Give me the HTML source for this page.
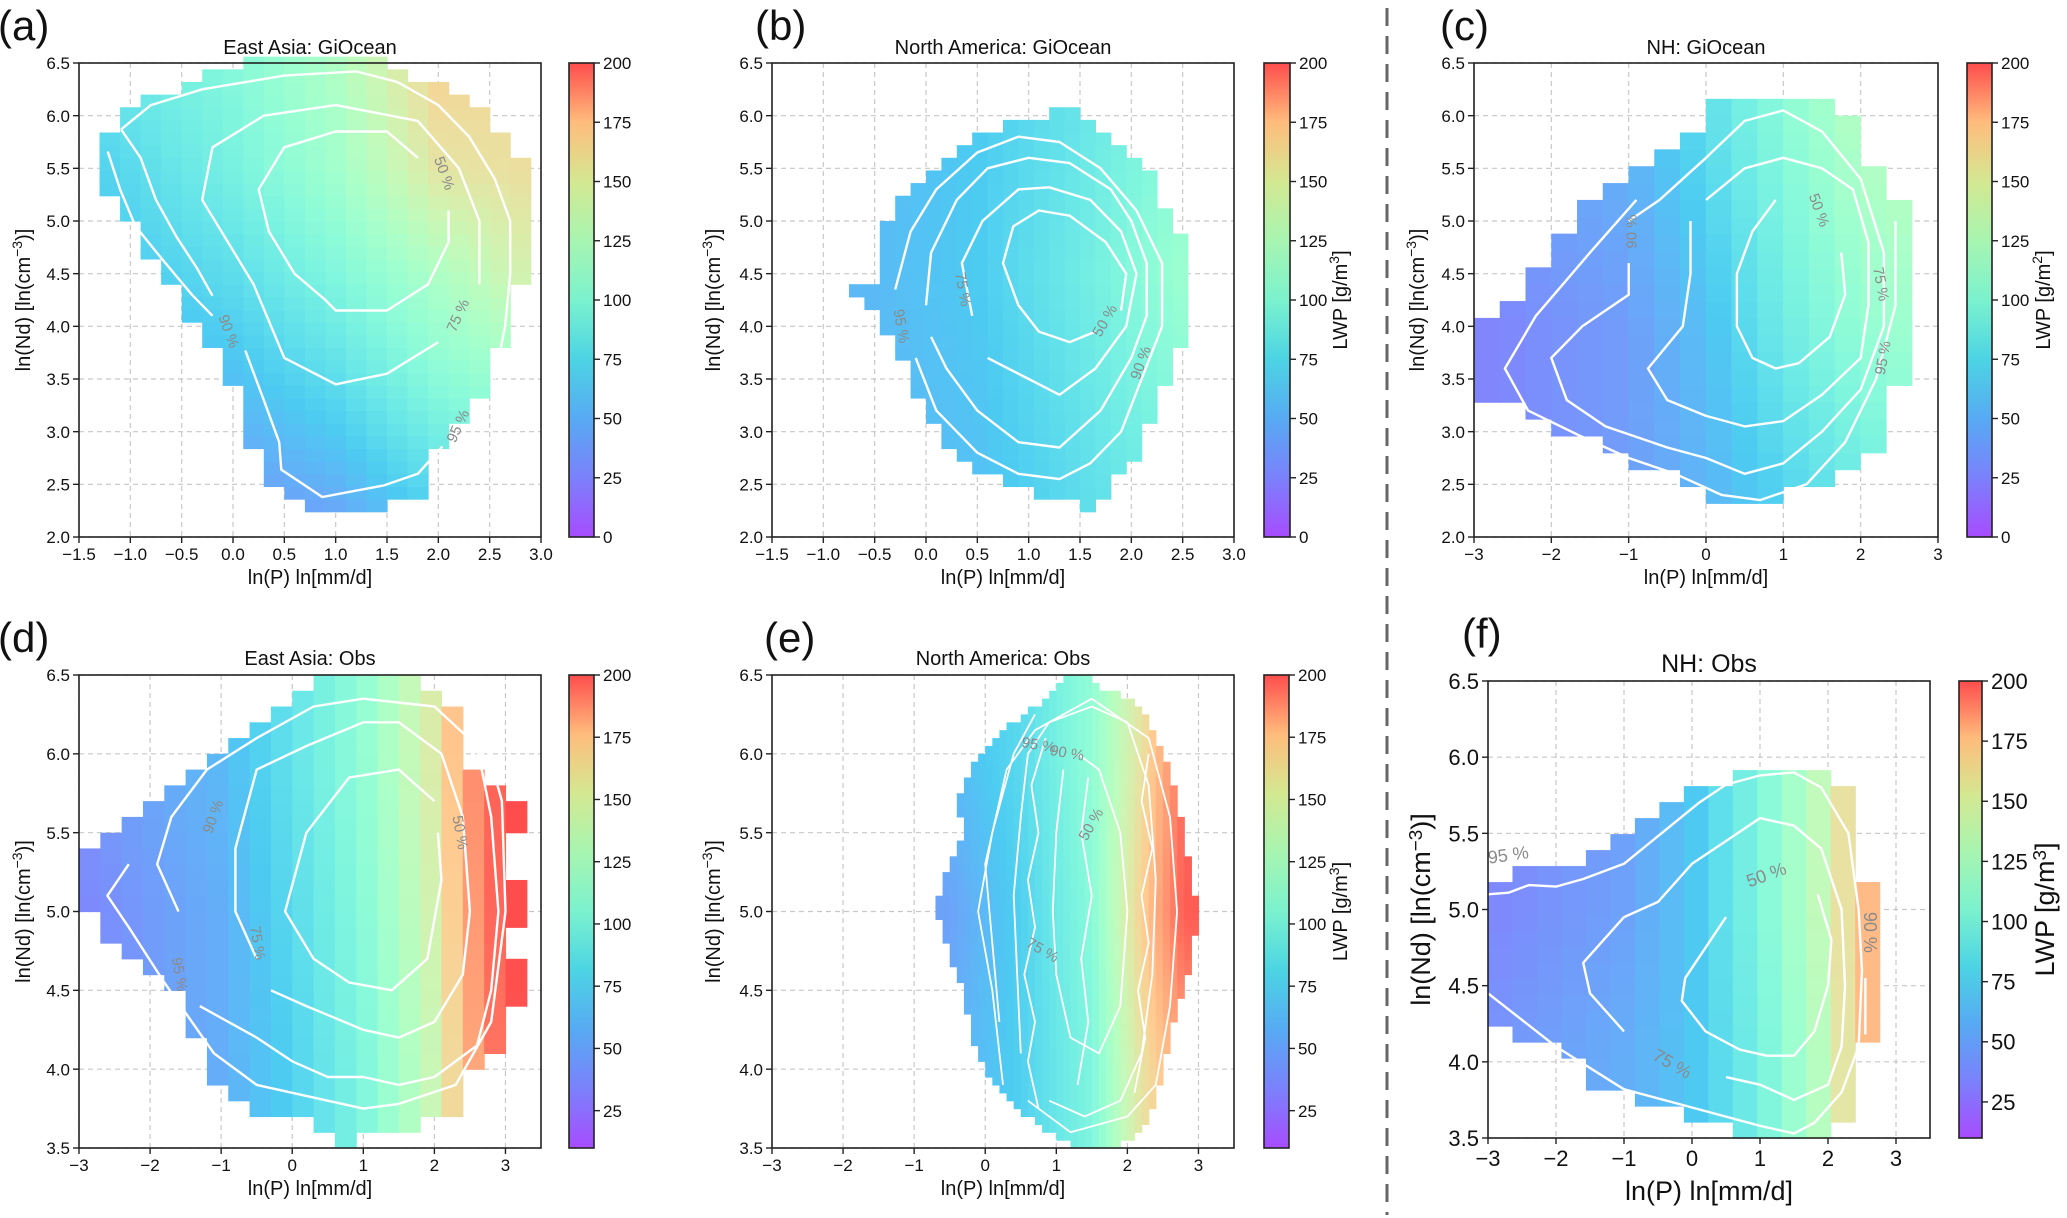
<!DOCTYPE html>
<html><head><meta charset="utf-8"><title>LWP vs ln(P) and ln(Nd)</title>
<style>html,body{margin:0;padding:0;background:#fff}svg{display:block;font-family:"Liberation Sans","DejaVu Sans",sans-serif}</style>
</head><body>
<svg id="fig" xmlns="http://www.w3.org/2000/svg" width="2067" height="1218" viewBox="0 0 2067 1218">
<defs>
<linearGradient id="cbgrad" x1="0" y1="1" x2="0" y2="0">
<stop offset="0" stop-color="rgb(167,76,255)"/><stop offset="0.125" stop-color="rgb(123,129,252)"/><stop offset="0.25" stop-color="rgb(87,170,243)"/><stop offset="0.375" stop-color="rgb(76,212,228)"/><stop offset="0.5" stop-color="rgb(123,242,206)"/><stop offset="0.625" stop-color="rgb(167,245,177)"/><stop offset="0.75" stop-color="rgb(212,232,145)"/><stop offset="0.875" stop-color="rgb(255,188,124)"/><stop offset="1" stop-color="rgb(255,77,77)"/>
</linearGradient>
</defs>
<line x1="1387" y1="8" x2="1387" y2="1215" stroke="#666" stroke-width="3" stroke-dasharray="18,10"/>
</svg>
<script>
// ---------- Panel (a) East Asia: GiOcean ----------
const aExtY=[2.25,2.35,2.6,3.0,3.4,3.6,3.9,4.2,4.5,4.8,5.1,5.4,5.7,6.0,6.2,6.3,6.45];
const aExtMin=[0.7,0.7,0.3,0.1,0.1,-0.1,-0.3,-0.5,-0.7,-0.9,-1.1,-1.3,-1.3,-1.1,-0.7,-0.5,0.0];
const aExtMax=[1.1,1.9,1.9,2.1,2.5,2.5,2.7,2.7,2.9,2.9,2.9,2.9,2.7,2.5,2.3,2.0,1.5];
const aLwpX=[-1.5,0,1,2,3];
const aLwpY=[2.3,3.5,4.5,5.5,6.4];
const aLwpV=[[25,28,35,55,70],[38,45,60,85,100],[45,60,80,105,130],[50,75,98,135,140],[60,82,105,145,140]];
const aC50=[[1.8,5.6],[1.5,5.85],[1.0,5.85],[0.5,5.7],[0.25,5.3],[0.35,4.9],[0.6,4.5],[0.9,4.25],[1.0,4.15],[1.5,4.15],[1.9,4.4],[2.1,4.8],[2.1,5.1]];
const aC75=[[2.0,3.85],[1.5,3.55],[1.0,3.45],[0.5,3.7],[0.2,4.4],[-0.3,5.2],[-0.2,5.7],[0.3,6.0],[1.0,6.1],[1.8,5.95],[2.2,5.5],[2.4,5.0],[2.4,4.4]];
const aC90=[[-1.09,5.87],[-0.8,6.1],[-0.3,6.25],[0.5,6.38],[1.2,6.42],[1.6,6.32],[2.0,6.1],[2.3,5.8],[2.55,5.4],[2.7,5.0],[2.7,4.5],[2.65,4.0],[2.55,3.5]];
const aC90b=[[-1.09,5.87],[-0.9,5.6],[-0.75,5.2],[-0.55,4.85],[-0.35,4.55],[-0.2,4.29]];
const aC95=[[-1.22,5.66],[-1.1,5.3],[-0.95,4.95],[-0.7,4.65],[-0.4,4.3],[-0.2,4.1]];
const aC95b=[[0.12,3.77],[0.3,3.3],[0.45,2.9],[0.47,2.64],[0.87,2.38],[1.47,2.49],[1.8,2.6],[2.04,2.86]];
const aLabels=[["50 %",2.05,5.45,70],["75 %",2.2,4.1,-65],["90 %",-0.05,3.95,70],["95 %",2.2,3.05,-65]];
// ---------- Panel (b) North America: GiOcean ----------
const bExtY=[2.3,2.45,2.6,2.8,3.1,3.4,3.7,4.0,4.3,4.5,4.9,5.2,5.4,5.6,5.85,6.05];
const bExtMin=[1.5,0.9,0.6,0.2,0.1,-0.1,-0.2,-0.4,-0.75,-0.4,-0.4,-0.3,-0.1,0.2,0.5,1.25];
const bExtMax=[1.65,1.75,1.9,2.1,2.2,2.3,2.45,2.5,2.5,2.5,2.5,2.3,2.2,2.0,1.75,1.4];
const bLwpX=[-0.8,0.5,1.5,2.5];
const bLwpY=[2.5,4.5,6.0];
const bLwpV=[[40,45,60,75],[40,50,70,95],[40,50,65,85]];
const bC50=[[1.65,3.95],[1.4,3.85],[1.1,3.95],[0.9,4.2],[0.75,4.6],[0.85,4.95],[1.1,5.1],[1.4,5.05],[1.75,4.8],[1.95,4.5],[1.9,4.15]];
const bC75=[[0.45,4.1],[0.35,4.6],[0.55,5.0],[0.9,5.3],[1.2,5.32],[1.6,5.2],[1.9,4.9],[2.05,4.5],[1.95,4.0],[1.65,3.6],[1.3,3.35],[1.0,3.5],[0.6,3.7]];
const bC90=[[0.0,4.2],[0.05,4.7],[0.3,5.2],[0.6,5.5],[1.0,5.6],[1.4,5.55],[1.8,5.3],[2.0,5.0],[2.15,4.6],[2.15,4.1],[2.0,3.7],[1.7,3.2],[1.3,2.85],[0.9,2.9],[0.5,3.2],[0.2,3.6],[0.05,3.9]];
const bC95=[[-0.3,4.35],[-0.15,4.9],[0.1,5.3],[0.5,5.65],[0.9,5.8],[1.3,5.75],[1.7,5.5],[2.05,5.1],[2.3,4.6],[2.3,4.0],[2.1,3.5],[1.9,3.0],[1.6,2.7],[1.3,2.55],[0.9,2.6],[0.5,2.8],[0.1,3.2],[-0.1,3.7]];
const bLabels=[["75 %",0.35,4.35,80],["95 %",-0.25,4.0,80],["50 %",1.75,4.05,-60],["90 %",2.1,3.65,-70]];
// ---------- Panel (c) NH: GiOcean ----------
const cExtY=[2.35,2.6,2.9,3.2,3.4,3.9,4.3,4.8,5.2,5.5,5.9,6.15];
const cExtMin=[0.2,-0.5,-1.5,-2.5,-3.0,-3.0,-2.5,-2.0,-1.5,-0.8,-0.2,0.3];
const cExtMax=[1.0,1.8,2.2,2.2,2.5,2.5,2.5,2.5,2.5,2.2,2.0,1.5];
const cLwpX=[-3,-1,0,1,2,2.5];
const cLwpY=[2.5,4.0,6.0];
const cLwpV=[[20,30,40,55,70,75],[20,30,45,70,90,95],[30,40,60,85,110,115]];
const cC50=[[0.9,5.2],[0.6,4.9],[0.4,4.5],[0.4,4.0],[0.6,3.7],[0.9,3.6],[1.2,3.65],[1.6,3.9],[1.8,4.3],[1.75,4.7]];
const cC75=[[-0.2,5.0],[-0.2,4.5],[-0.3,4.0],[-0.75,3.6],[-0.5,3.3],[0,3.15],[0.5,3.05],[1.0,3.1],[1.5,3.35],[2.0,3.7],[2.1,4.2],[2.1,4.8],[1.9,5.3],[1.5,5.5],[1.0,5.6],[0.5,5.5],[0.0,5.2]];
const cC90=[[-1.0,4.6],[-1.0,4.3],[-1.6,4.0],[-2.0,3.7],[-1.8,3.3],[-1.3,3.05],[-0.5,2.85],[0,2.75],[0.5,2.6],[1.0,2.7],[1.5,3.0],[2.0,3.4],[2.3,4.0],[2.3,4.7],[2.0,5.4],[1.5,5.85],[1.0,6.05],[0.5,5.95],[0,5.6],[-0.6,5.2],[-1.0,5.0]];
const cC95=[[-0.9,5.2],[-1.5,4.7],[-2.2,4.1],[-2.6,3.6],[-2.3,3.2],[-1.6,2.95],[-1.0,2.75],[-0.4,2.6],[0.2,2.4],[0.7,2.35],[1.3,2.5],[1.8,2.9],[2.2,3.5],[2.45,4.2],[2.45,5.0]];
const cLabels=[["50 %",1.45,5.1,70],["75 %",2.25,4.4,80],["90 %",-0.95,4.9,-90],["95 %",2.3,3.7,-80]];
// ---------- Panel (d) East Asia: Obs ----------
const dExtY=[3.5,3.6,3.7,3.8,4.0,4.2,4.5,4.8,5.0,5.4,5.6,5.8,5.95,6.1,6.3,6.4];
const dExtMin=[0.6,0.6,-0.2,-0.8,-1.3,-1.3,-1.7,-2.6,-2.9,-2.9,-2.3,-1.6,-1.2,-0.8,-0.2,0.4];
const dExtMax=[0.9,1.2,2.3,2.3,2.6,3.0,3.3,3.0,3.3,3.0,3.3,2.7,2.4,2.4,2.2,1.8];
const dLwpX=[-3,-1,0,1,2,2.5,3,3.3];
const dLwpY=[4,5,6];
const dLwpV=[[30,45,60,85,125,165,195,200],[30,45,65,90,130,170,200,200],[35,50,70,95,135,175,200,200]];
const dC50=[[2.0,5.7],[1.5,5.9],[0.8,5.85],[0.2,5.5],[-0.1,5.0],[0.3,4.7],[0.8,4.55],[1.4,4.5],[1.9,4.7],[2.1,5.2],[2.05,5.5]];
const dC75=[[-0.5,4.7],[-0.8,5.0],[-0.8,5.4],[-0.5,5.9],[0.2,6.05],[1.0,6.2],[1.5,6.2],[2.1,6.0],[2.4,5.6],[2.5,5.0],[2.4,4.6],[2.0,4.3],[1.5,4.2],[1.0,4.25],[0.2,4.4],[-0.3,4.5]];
const dC90=[[-1.6,5.0],[-1.9,5.3],[-1.7,5.6],[-1.2,5.9],[-0.5,6.1],[0.3,6.3],[1.0,6.35],[2.0,6.3],[2.6,6.05],[2.8,5.6],[2.9,5.0],[2.8,4.5],[2.6,4.15],[2.0,3.95],[1.5,3.9],[1.0,3.95],[0.5,3.95],[0,4.05],[-0.5,4.2],[-1.3,4.4]];
const dC95=[[-2.3,5.3],[-2.6,5.1],[-2.3,4.9],[-1.8,4.55],[-1.1,4.1],[-0.5,3.9],[0.5,3.8],[1.0,3.75],[1.5,3.78],[2.3,3.9],[2.8,4.3],[3.0,5.0],[2.95,5.7],[2.7,6.1]];
const dLabels=[["50 %",2.35,5.5,80],["75 %",-0.5,4.8,80],["90 %",-1.1,5.6,-70],["95 %",-1.6,4.6,80]];
// ---------- Panel (e) North America: Obs ----------
const eExtY=[3.5,3.6,3.8,4.0,4.2,4.5,4.7,5.0,5.2,5.5,5.7,5.9,6.1,6.3,6.45];
const eExtMin=[1.3,0.9,0.3,0.0,-0.2,-0.3,-0.5,-0.7,-0.6,-0.3,-0.4,-0.2,0.1,0.7,1.1];
const eExtMax=[1.8,2.2,2.4,2.5,2.6,2.8,2.9,3.0,2.9,2.8,2.7,2.6,2.4,2.2,1.5];
const eLwpX=[-0.5,0.5,1.5,2.2,2.8];
const eLwpY=[4,5,6];
const eLwpV=[[45,60,85,140,170],[40,60,90,150,195],[50,65,95,140,190]];
const eC50=[[1.1,5.9],[1.0,5.5],[0.95,5.0],[1.0,4.6],[1.2,4.2],[1.6,4.1],[1.9,4.4],[2.0,5.0],[1.9,5.5],[1.6,5.9],[1.3,6.0]];
const eC75=[[0.5,4.1],[0.45,4.6],[0.4,5.1],[0.5,5.6],[0.6,6.0],[0.9,6.2],[1.5,6.3],[2.0,6.2],[2.3,5.8],[2.4,5.2],[2.35,4.6],[2.2,4.1],[1.9,3.8],[1.4,3.7],[0.9,3.8]];
const eC90=[[0.2,4.3],[0.1,4.8],[0.0,5.3],[0.3,5.9],[0.7,6.15],[1.5,6.35],[2.3,6.1],[2.6,5.6],[2.7,5.0],[2.6,4.4],[2.4,3.9],[2.0,3.7],[1.2,3.6],[0.6,3.8]];
const eC95=[[0.25,3.9],[0.1,4.5],[-0.1,5.0],[0.1,5.5],[0.4,6.0],[0.7,6.25]];
const eC95b=[[0.75,3.75],[0.6,4.05],[0.7,4.3],[0.55,4.6],[0.7,4.9],[0.6,5.2],[0.75,5.5],[0.65,5.8],[0.85,6.1]];
const eC95c=[[2.1,3.85],[2.25,4.2],[2.15,4.5],[2.3,4.8],[2.2,5.1],[2.35,5.4],[2.2,5.7],[2.3,6.0]];
const eC95d=[[1.3,3.9],[1.45,4.3],[1.35,4.7],[1.5,5.1],[1.35,5.5],[1.45,5.85]];
const eLabels=[["50 %",1.5,5.55,-60],["75 %",0.8,4.75,30],["95 %",0.75,6.05,10],["90 %",1.15,6.0,10]];
// ---------- Panel (f) NH: Obs ----------
const fExtY=[3.52,3.6,3.7,3.82,3.95,4.1,4.2,4.35,4.5,5.15,5.25,5.35,5.5,5.7,5.8,5.9];
const fExtMin=[0.9,0.2,-0.6,-1.3,-1.6,-2.0,-2.7,-3.0,-3.0,-3.0,-2.7,-1.3,-1.0,-0.5,0.2,0.9];
const fExtMax=[1.95,2.3,2.3,2.3,2.3,2.3,2.65,2.65,2.65,2.65,2.3,2.3,2.3,2.3,2.3,1.95];
const fLwpX=[-3,-1,0,1,2,2.5];
const fLwpY=[4,5];
const fLwpV=[[35,45,55,80,120,160],[30,40,55,85,125,160]];
const fC50=[[0.5,4.95],[0.2,4.75],[-0.1,4.55],[-0.15,4.4],[0.2,4.2],[0.7,4.08],[1.1,4.04],[1.5,4.04],[1.8,4.2],[2.0,4.5],[2.05,4.8],[1.85,5.1]];
const fC75=[[-1.0,4.2],[-1.5,4.45],[-1.6,4.65],[-1.0,4.95],[-0.5,5.05],[0,5.3],[0.5,5.45],[1.0,5.6],[1.5,5.55],[1.9,5.4],[2.2,5.0],[2.25,4.5],[2.2,4.1],[2.0,3.85],[1.5,3.75],[1.0,3.85],[0.5,3.9]];
const fC95=[[-3.0,5.1],[-2.7,5.11],[-2.4,5.16],[-2.0,5.15],[-1.6,5.2],[-1.0,5.3],[0.1,5.7],[0.5,5.82],[1.0,5.88],[1.5,5.9],[1.9,5.8],[2.3,5.5],[2.45,5.0],[2.5,4.6],[2.45,4.1],[2.2,3.8],[1.8,3.6],[1.5,3.53],[1.0,3.58],[0,3.7],[-1.0,3.82],[-2.0,4.1],[-3.0,4.45]];
const fC90=[[2.55,4.18],[2.55,4.55]];
const fLabels=[["95 %",-2.7,5.35,-8],["50 %",1.1,5.22,-20],["75 %",-0.3,3.98,30],["90 %",2.6,4.85,90]];

const NS='http://www.w3.org/2000/svg';
const svg=document.getElementById('fig');
function mk(tag,attrs,parent){const e=document.createElementNS(NS,tag);for(const k in attrs)e.setAttribute(k,attrs[k]);(parent||svg).appendChild(e);return e;}
function rainbow(t){t=Math.max(0,Math.min(1,t));const r=Math.min(1,Math.abs(2*t-0.5)),g=Math.sin(Math.PI*t),b=Math.cos(Math.PI*t/2);const a=0.7;return 'rgb('+Math.round((r*a+1-a)*255)+','+Math.round((g*a+1-a)*255)+','+Math.round((b*a+1-a)*255)+')';}
function interp1(xs,ys,x){if(x<=xs[0])return ys[0];for(let i=1;i<xs.length;i++){if(x<=xs[i]){const f=(x-xs[i-1])/(xs[i]-xs[i-1]);return ys[i-1]+f*(ys[i]-ys[i-1]);}}return ys[ys.length-1];}
function lwpAt(X,Y,V,x,y){const rows=V.map(r=>interp1(X,r,x));return interp1(Y,rows,y);}
function fmt(v,dec){const s=Math.abs(v).toFixed(dec);return (v<0?'\u2212':'')+s;}

function drawPanel(p){
  const g=mk('g',{});
  
  
  const sx=v=>p.l+(v-p.xlim[0])/(p.xlim[1]-p.xlim[0])*(p.r-p.l);
  const sy=v=>p.b-(v-p.ylim[0])/(p.ylim[1]-p.ylim[0])*(p.b-p.t);
  p.xticks.forEach(v=>{const ln=mk('line',{x1:sx(v),x2:sx(v),y1:p.t,y2:p.b,stroke:'#c8c8c8','stroke-width':1.2,'stroke-dasharray':'5,4'},g);
    
    });
  p.yticks.forEach(v=>{const ln=mk('line',{x1:p.l,x2:p.r,y1:sy(v),y2:sy(v),stroke:'#c8c8c8','stroke-width':1.2,'stroke-dasharray':'5,4'},g);
    
    });
  const cells=mk('g',{},g);
  
  
  const ymin=Math.min(...p.extY),ymax=Math.max(...p.extY);
  for(let y0=p.ylim[0];y0<p.ylim[1]-1e-9;y0+=p.dy){
    const yc=y0+p.dy/2;if(yc<ymin-p.dy/2||yc>ymax+p.dy/2)continue;
    const xa=interp1(p.extY,p.extMin,yc),xb=interp1(p.extY,p.extMax,yc);
    for(let x0=p.xlim[0];x0<p.xlim[1]-1e-9;x0+=p.dx){
      const xc=x0+p.dx/2;if(xc<xa||xc>xb)continue;
      const v=lwpAt(p.lwpX,p.lwpY,p.lwpV,xc,yc);
      const rc=mk('rect',{x:sx(x0).toFixed(2),y:sy(y0+p.dy).toFixed(2),width:((sx(x0+p.dx)-sx(x0))+0.6).toFixed(2),height:((sy(y0)-sy(y0+p.dy))+0.6).toFixed(2),fill:rainbow((v-p.vmin)/(200-p.vmin))},cells);
      
      
    }
  }
  p.contours.forEach((c,i)=>{const pl=mk('polyline',{points:c.map(q=>sx(q[0]).toFixed(1)+','+sy(q[1]).toFixed(1)).join(' '),fill:'none',stroke:'#fff','stroke-width':p.cw||2.4,'stroke-linejoin':'round'},g);
    
    });
  p.labels.forEach(L=>{const t=mk('text',{x:sx(L[1]),y:sy(L[2]),fill:'#8a8a8a','font-size':p.clf||15,'text-anchor':'middle','dominant-baseline':'middle',transform:'rotate('+L[3]+' '+sx(L[1])+' '+sy(L[2])+')'},g);t.textContent=L[0];
    
    });
  const fr=mk('rect',{x:p.l,y:p.t,width:p.r-p.l,height:p.b-p.t,fill:'none',stroke:'#222','stroke-width':1.6},g);
  
  
  const tf=p.tf;
  p.xticks.forEach(v=>{mk('line',{x1:sx(v),x2:sx(v),y1:p.b,y2:p.b+6,stroke:'#222','stroke-width':1.4},g);
    const t=mk('text',{x:sx(v),y:p.b+6+tf,'font-size':tf,'text-anchor':'middle',fill:'#111'},g);t.textContent=fmt(v,p.xdec);
    
    });
  p.yticks.forEach(v=>{mk('line',{x1:p.l-6,x2:p.l,y1:sy(v),y2:sy(v),stroke:'#222','stroke-width':1.4},g);
    const t=mk('text',{x:p.l-9,y:sy(v)+tf*0.36,'font-size':tf,'text-anchor':'end',fill:'#111'},g);t.textContent=fmt(v,1);
    
    });
  const xl=mk('text',{x:(p.l+p.r)/2,y:p.xly,'font-size':p.lf,'text-anchor':'middle',fill:'#111'},g);xl.textContent='ln(P) ln[mm/d]';
  
  
  const yl=mk('text',{x:0,y:0,'font-size':p.lf,'text-anchor':'middle',fill:'#111',transform:'translate('+p.ylx+','+((p.t+p.b)/2)+') rotate(-90)'},g);
  yl.innerHTML='ln(Nd) [ln(cm<tspan dy="-8" font-size="'+(p.lf*0.7)+'">\u22123</tspan><tspan dy="8">)]</tspan>';
  
  
  const ti=mk('text',{x:(p.l+p.r)/2,y:p.tiy,'font-size':p.tif,'text-anchor':'middle',fill:'#111'},g);ti.textContent=p.title;
  
  
  const pl=mk('text',{x:p.plx,y:p.ply,'font-size':42,fill:'#111'},g);pl.textContent='('+p.id+')';
  
  
  const cb=mk('rect',{x:p.cl,y:p.t,width:p.cr-p.cl,height:p.b-p.t,fill:'url(#cbgrad)',stroke:'#222','stroke-width':1.6},g);
  
  
  const cy=v=>p.b-(v-p.vmin)/(200-p.vmin)*(p.b-p.t);
  p.cticks.forEach(v=>{mk('line',{x1:p.cr,x2:p.cr+6,y1:cy(v),y2:cy(v),stroke:'#222','stroke-width':1.4},g);
    const t=mk('text',{x:p.cr+9,y:cy(v)+tf*0.36,'font-size':tf,fill:'#111'},g);t.textContent=v;
    
    });
  if(p.cbl){const c=mk('text',{x:0,y:0,'font-size':p.lf,'text-anchor':'middle',fill:'#111',transform:'translate('+p.cbl+','+((p.t+p.b)/2)+') rotate(-90)'},g);
    c.innerHTML='LWP [g/m<tspan dy="-8" font-size="'+(p.lf*0.7)+'">'+p.cbu+'</tspan><tspan dy="8">]</tspan>';
    
    }
}
const tickA=[-1.5,-1,-0.5,0,0.5,1,1.5,2,2.5,3];
const tickC=[-3,-2,-1,0,1,2,3];
const yTop=[2,2.5,3,3.5,4,4.5,5,5.5,6,6.5];
const yBot=[3.5,4,4.5,5,5.5,6,6.5];
const cbTop=[0,25,50,75,100,125,150,175,200];
const cbBot=[25,50,75,100,125,150,175,200];
const common={tf:17,lf:20,tif:20};
drawPanel(Object.assign({},common,{id:'a',l:79,t:63,r:541,b:537,xlim:[-1.5,3],ylim:[2,6.5],xticks:tickA,yticks:yTop,xdec:1,dx:0.2,dy:0.12,vmin:0,extY:aExtY,extMin:aExtMin,extMax:aExtMax,lwpX:aLwpX,lwpY:aLwpY,lwpV:aLwpV,contours:[aC50,aC75,aC90,aC90b,aC95,aC95b],labels:aLabels,cl:569,cr:594,cticks:cbTop,title:'East Asia: GiOcean',tiy:54,plx:-2,ply:40,xly:584,ylx:30}));
drawPanel(Object.assign({},common,{id:'b',l:772,t:63,r:1234,b:537,xlim:[-1.5,3],ylim:[2,6.5],xticks:tickA,yticks:yTop,xdec:1,dx:0.15,dy:0.12,vmin:0,extY:bExtY,extMin:bExtMin,extMax:bExtMax,lwpX:bLwpX,lwpY:bLwpY,lwpV:bLwpV,contours:[bC50,bC75,bC90,bC95],labels:bLabels,cl:1264,cr:1290,cticks:cbTop,cbl:1347,cbu:'3',title:'North America: GiOcean',tiy:54,plx:755,ply:40,xly:584,ylx:720}));
drawPanel(Object.assign({},common,{id:'c',l:1474,t:63,r:1938,b:537,xlim:[-3,3],ylim:[2,6.5],xticks:tickC,yticks:yTop,xdec:0,dx:0.333,dy:0.16,vmin:0,extY:cExtY,extMin:cExtMin,extMax:cExtMax,lwpX:cLwpX,lwpY:cLwpY,lwpV:cLwpV,contours:[cC50,cC75,cC90,cC95],labels:cLabels,cl:1967,cr:1992,cticks:cbTop,cbl:2050,cbu:'2',title:'NH: GiOcean',tiy:54,plx:1440,ply:40,xly:584,ylx:1424}));
drawPanel(Object.assign({},common,{id:'d',l:79,t:675,r:541,b:1148,xlim:[-3,3.5],ylim:[3.5,6.5],xticks:tickC,yticks:yBot,xdec:0,dx:0.3,dy:0.1,vmin:10,extY:dExtY,extMin:dExtMin,extMax:dExtMax,lwpX:dLwpX,lwpY:dLwpY,lwpV:dLwpV,contours:[dC50,dC75,dC90,dC95],labels:dLabels,cl:569,cr:594,cticks:cbBot,title:'East Asia: Obs',tiy:665,plx:-2,ply:652,xly:1195,ylx:30}));
drawPanel(Object.assign({},common,{id:'e',l:772,t:675,r:1234,b:1148,xlim:[-3,3.5],ylim:[3.5,6.5],xticks:tickC,yticks:yBot,xdec:0,dx:0.1,dy:0.05,vmin:10,extY:eExtY,extMin:eExtMin,extMax:eExtMax,lwpX:eLwpX,lwpY:eLwpY,lwpV:eLwpV,contours:[eC50,eC75,eC90,eC95,eC95b,eC95c,eC95d],labels:eLabels,cw:1.8,cl:1264,cr:1289,cticks:cbBot,cbl:1347,cbu:'3',title:'North America: Obs',tiy:665,plx:764,ply:652,xly:1195,ylx:720}));
drawPanel({id:'f',tf:22,lf:27,tif:25,clf:18,l:1488,t:681,r:1930,b:1138,xlim:[-3,3.5],ylim:[3.5,6.5],xticks:tickC,yticks:yBot,xdec:0,dx:0.36,dy:0.105,vmin:10,extY:fExtY,extMin:fExtMin,extMax:fExtMax,lwpX:fLwpX,lwpY:fLwpY,lwpV:fLwpV,contours:[fC50,fC75,fC95,fC90],labels:fLabels,cl:1959,cr:1982,cticks:cbBot,cbl:2054,cbu:'3',title:'NH: Obs',tiy:672,plx:1462,ply:648,xly:1200,ylx:1430});
</script>
</body></html>
